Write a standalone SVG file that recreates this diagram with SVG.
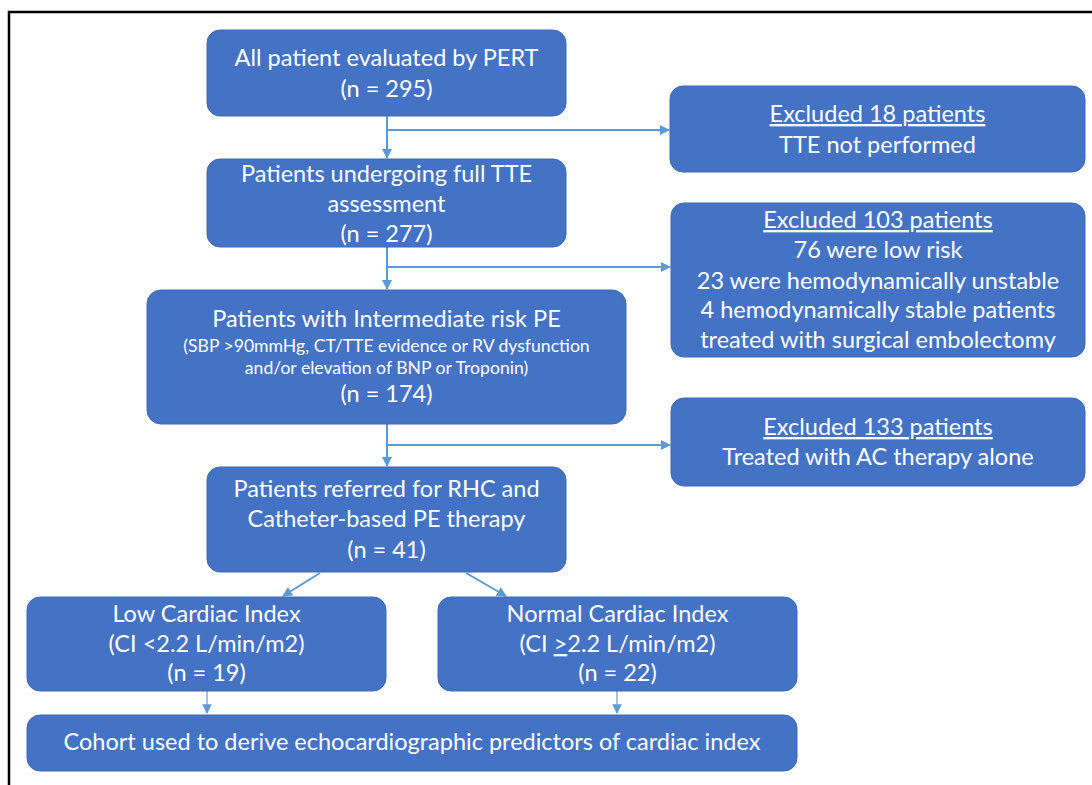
<svg xmlns="http://www.w3.org/2000/svg" width="1092" height="785" viewBox="0 0 1092 785">
<style>
.box{fill:#4472C4;stroke:#3E68B6;stroke-width:1}
.t{font-family:Lato,"Liberation Sans",sans-serif;font-size:23.5px;fill:#ffffff;text-anchor:middle}
.s{font-size:17.6px}
.u{text-decoration:underline}
.c{stroke:#5B9BD5;stroke-width:2;fill:none}
.c1{stroke:#5B9BD5;stroke-width:1.2;fill:none}
</style>
<defs>
<marker id="ah" viewBox="0 0 10 10" refX="9" refY="5" markerWidth="5" markerHeight="5" orient="auto" markerUnits="strokeWidth">
<path d="M0,0 L10,5 L0,10 z" fill="#5B9BD5"/>
</marker>
<marker id="ah2" viewBox="0 0 10 10" refX="9" refY="5" markerWidth="8" markerHeight="8" orient="auto" markerUnits="strokeWidth">
<path d="M0,0 L10,5 L0,10 z" fill="#5B9BD5"/>
</marker>
</defs>
<rect width="1092" height="785" fill="#ffffff"/>
<path d="M9,785 V12 H1092" stroke="#000" stroke-width="2.5" fill="none"/>

<g id="connectors">
<path class="c" d="M387,116 V158" marker-end="url(#ah)"/>
<path class="c" d="M387,130 H669" marker-end="url(#ah)"/>
<path class="c" d="M387,247 V289" marker-end="url(#ah)"/>
<path class="c" d="M387,267 H670" marker-end="url(#ah)"/>
<path class="c" d="M387,424 V466" marker-end="url(#ah)"/>
<path class="c" d="M387,445 H670" marker-end="url(#ah)"/>
<path class="c" d="M320,573 L283,596" marker-end="url(#ah)"/>
<path class="c" d="M466,573 L506,596" marker-end="url(#ah)"/>
<path class="c1" d="M207,691 V713" marker-end="url(#ah2)"/>
<path class="c1" d="M617,691 V713" marker-end="url(#ah2)"/>
</g>

<g id="n1">
<rect class="box" x="207" y="30" width="359" height="86" rx="13"/>
<text class="t" x="386.5" y="66">All patient evaluated by PERT</text>
<text class="t" x="386.5" y="97">(n = 295)</text>
</g>
<g id="ex18">
<rect class="box" x="670" y="86" width="415" height="86" rx="13"/>
<text class="t u" x="877.5" y="122">Excluded 18 patients</text>
<text class="t" x="877.5" y="153">TTE not performed</text>
</g>
<g id="n2">
<rect class="box" x="207" y="159" width="359" height="88" rx="13"/>
<text class="t" x="386.5" y="182">Patients undergoing full TTE</text>
<text class="t" x="386.5" y="212">assessment</text>
<text class="t" x="386.5" y="242">(n = 277)</text>
</g>
<g id="ex103">
<rect class="box" x="671" y="203" width="414" height="154" rx="13"/>
<text class="t u" x="878" y="228">Excluded 103 patients</text>
<text class="t" x="878" y="258">76 were low risk</text>
<text class="t" x="878" y="289">23 were hemodynamically unstable</text>
<text class="t" x="878" y="318">4 hemodynamically stable patients</text>
<text class="t" x="878" y="348">treated with surgical embolectomy</text>
</g>
<g id="n3">
<rect class="box" x="147" y="290" width="479" height="134" rx="14"/>
<text class="t" x="386.5" y="327">Patients with Intermediate risk PE</text>
<text class="t s" x="386.5" y="352">(SBP &gt;90mmHg, CT/TTE evidence or RV dysfunction</text>
<text class="t s" x="386.5" y="374">and/or elevation of BNP or Troponin)</text>
<text class="t" x="386.5" y="402">(n = 174)</text>
</g>
<g id="ex133">
<rect class="box" x="671" y="398" width="414" height="88" rx="13"/>
<text class="t u" x="878" y="435">Excluded 133 patients</text>
<text class="t" x="878" y="465">Treated with AC therapy alone</text>
</g>
<g id="n4">
<rect class="box" x="207" y="467" width="359" height="105" rx="13"/>
<text class="t" x="386.5" y="497">Patients referred for RHC and</text>
<text class="t" x="386.5" y="527">Catheter-based PE therapy</text>
<text class="t" x="386.5" y="558">(n = 41)</text>
</g>
<g id="n5">
<rect class="box" x="27" y="597" width="359" height="94" rx="13"/>
<text class="t" x="206.5" y="622">Low Cardiac Index</text>
<text class="t" x="206.5" y="652">(CI &lt;2.2 L/min/m2)</text>
<text class="t" x="206.5" y="681">(n = 19)</text>
</g>
<g id="n6">
<rect class="box" x="438" y="597" width="359" height="94" rx="13"/>
<text class="t" x="617.5" y="622">Normal Cardiac Index</text>
<text class="t" x="617.5" y="652">(CI <tspan class="u">&gt;</tspan>2.2 L/min/m2)</text>
<text class="t" x="617.5" y="681">(n = 22)</text>
</g>
<g id="n7">
<rect class="box" x="27" y="715" width="770" height="56" rx="13"/>
<text class="t" x="412" y="750">Cohort used to derive echocardiographic predictors of cardiac index</text>
</g>
</svg>
